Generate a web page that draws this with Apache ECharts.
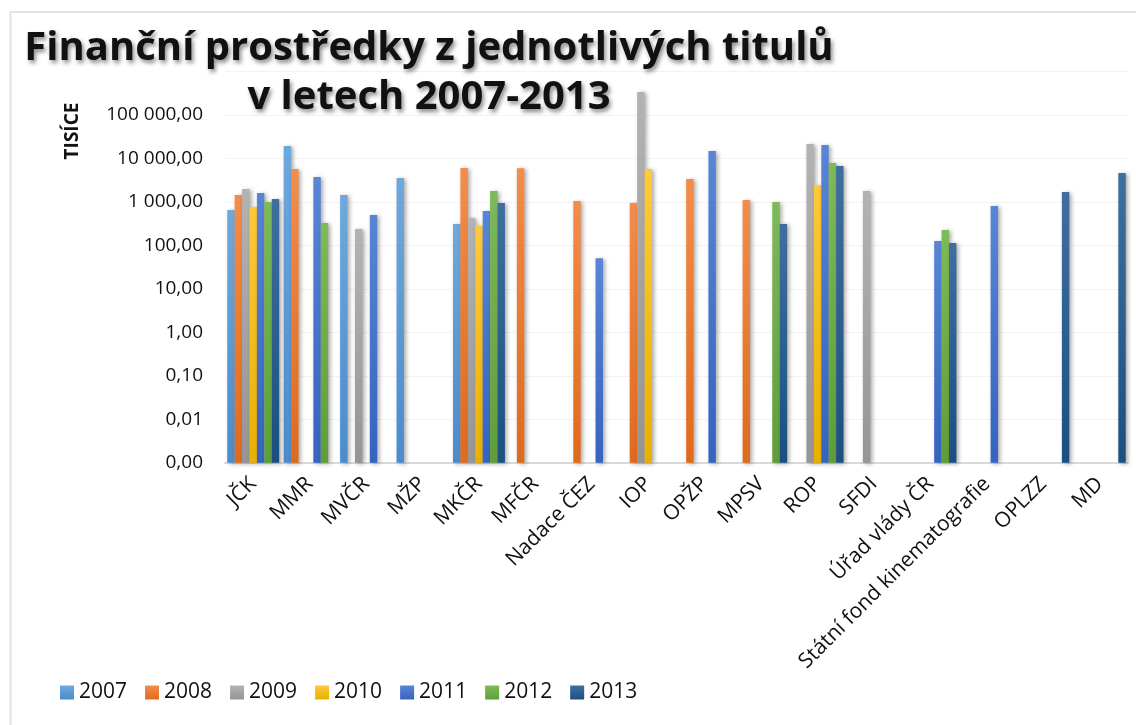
<!DOCTYPE html>
<html>
<head>
<meta charset="utf-8">
<script src="https://cdn.jsdelivr.net/npm/echarts@6/dist/echarts.min.js"></script>
<style>
  html, body { margin: 0; padding: 0; background: #fff; }
  #chart { width: 1136px; height: 725px; }
</style>
</head>
<body>
<div id="chart"></div>
<script>
// data, values in thousands (TISÍCE)
const categories = ['JČK', 'MMR', 'MVČR', 'MŽP', 'MKČR', 'MFČR', 'Nadace ČEZ', 'IOP', 'OPŽP', 'MPSV',
  'ROP', 'SFDI', 'Úřad vlády ČR', 'Státní fond kinematografie', 'OPLZZ', 'MD']
const years = ['2007', '2008', '2009', '2010', '2011', '2012', '2013']

const v2007 = [655, 19400, 1450, 3560, 311, null, null, null, null, null, null, null, null, null, null, null]
const v2008 = [1450, 5730, null, null, 6040, 6000, 1050, 945, 3370, 1110, null, null, null, null, null, null]
const v2009 = [1990, null, 238, null, 427, null, null, 339000, null, null, 21500, 1790, null, null, null, null]
const v2010 = [767, null, null, null, 284, null, null, 5730, null, null, 2420, null, null, null, null, null]
const v2011 = [1610, 3750, 500, null, 618, null, 50.5, null, 14900, null, 20400, null, 126, 807, null, null]
const v2012 = [1000, 327, null, null, 1790, null, null, null, null, 997, 7870, null, 226, null, null, null]
const v2013 = [1170, null, null, null, 946, null, null, null, null, 311, 6710, null, 114, null, 1690, 4630]

const seriesValues = [v2007, v2008, v2009, v2010, v2011, v2012, v2013]
// light (top) / dark (bottom) colours of each year's gradient
const colorTop = ['#6fa8dc', '#f48c4a', '#b3b3b3', '#ffc93a', '#5a85d6', '#7dba59', '#3f6f9f']
const colorBottom = ['#4a8ccc', '#e06a1c', '#959595', '#e8b000', '#3464c0', '#5e9e38', '#1c4f80']

function fmtCz(v) {
  let s = Number(v).toFixed(2)
  let parts = s.split('.')
  parts[0] = parts[0].replace(/\B(?=(\d{3})+(?!\d))/g, ' ')
  return parts[0] + ',' + parts[1]
}

const chart = echarts.init(document.getElementById('chart'))

const series = years.map((y, i) => ({
  name: y,
  type: 'bar',
  data: seriesValues[i],
  barGap: '0%',
  barCategoryGap: '8%',
  itemStyle: {
    color: new echarts.graphic.LinearGradient(0, 0, 0, 1, [
      { offset: 0, color: colorTop[i] },
      { offset: 1, color: colorBottom[i] }
    ]),
    shadowColor: 'rgba(0,0,0,0.35)',
    shadowBlur: 4,
    shadowOffsetX: 2,
    shadowOffsetY: 1
  }
}))

chart.setOption({
  animation: false,
  backgroundColor: '#fff',
  title: [
    {
      text: 'Finanční prostředky z jednotlivých titulů\nv letech 2007-2013',
      left: 424,
      top: 19,
      textAlign: 'center',
      textStyle: {
        fontFamily: 'Open Sans',
        fontWeight: 'bold',
        fontSize: 40,
        lineHeight: 49,
        color: '#111',
        textShadowColor: 'rgba(0,0,0,0.45)',
        textShadowBlur: 4,
        textShadowOffsetX: 2,
        textShadowOffsetY: 3
      }
    }
  ],
  graphic: [
    {
      type: 'rect',
      shape: { x: 10.5, y: 12, width: 1200, height: 800 },
      style: { fill: 'none', stroke: '#e2e2e2', lineWidth: 2 },
      silent: true
    },
    {
      type: 'text',
      x: 73,
      y: 131,
      rotation: Math.PI / 2,
      style: {
        text: 'TISÍCE',
        font: 'bold 19px "Open Sans"',
        fill: '#111',
        align: 'center',
        verticalAlign: 'middle'
      }
    }
  ],
  legend: {
    data: years,
    left: 55,
    top: 677,
    itemWidth: 14,
    itemHeight: 14,
    itemGap: 18,
    icon: 'rect',
    textStyle: { fontFamily: 'Open Sans', fontSize: 21, color: '#111' }
  },
  grid: {
    left: 225,
    right: 8,
    top: 71.6,
    bottom: 262.3,
    containLabel: false
  },
  xAxis: {
    type: 'category',
    data: categories,
    axisLine: { lineStyle: { color: '#d9d9d9', width: 2 } },
    axisTick: { show: false },
    axisLabel: {
      interval: 0,
      rotate: 45,
      margin: 18,
      fontFamily: 'Open Sans',
      fontSize: 21,
      color: '#111'
    }
  },
  yAxis: {
    type: 'log',
    logBase: 10,
    min: 0.001,
    max: 1000000,
    interval: 1,
    startValue: 0.001,
    axisLine: { show: false },
    axisTick: { show: false },
    splitLine: { lineStyle: { color: '#f3f3f3', width: 1 } },
    axisLabel: {
      margin: 22,
      fontFamily: 'Open Sans',
      fontSize: 19,
      color: '#111',
      formatter: function (v) {
        if (v > 100001) return ''
        return fmtCz(v)
      }
    }
  },
  series: series
})
</script>
</body>
</html>
